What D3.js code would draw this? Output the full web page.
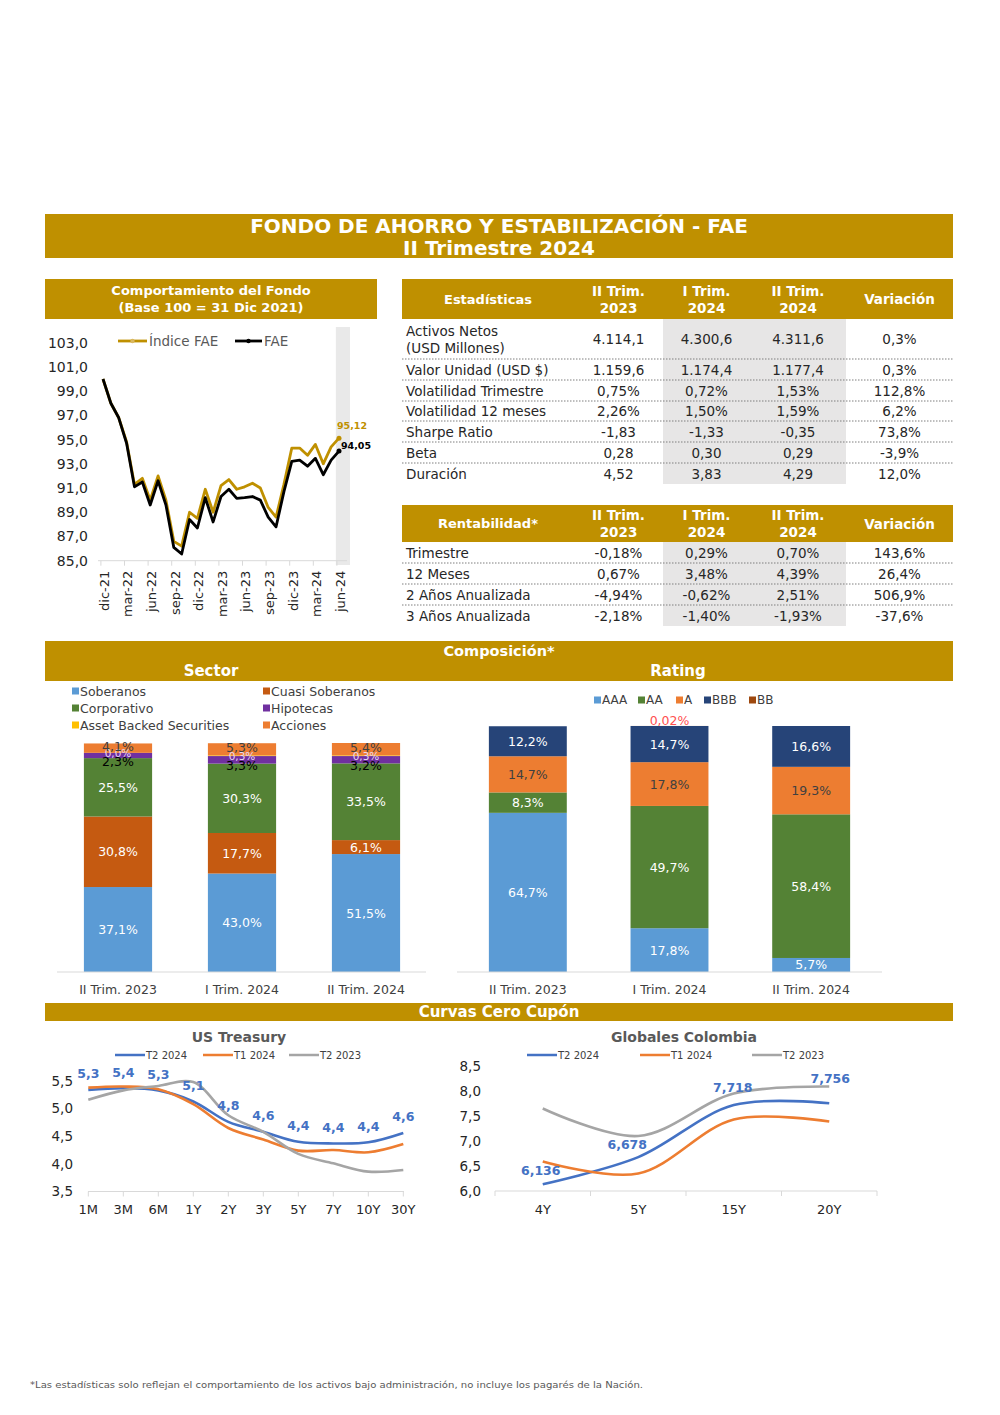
<!DOCTYPE html>
<html>
<head>
<meta charset="utf-8">
<script src="https://cdn.jsdelivr.net/npm/d3@7"></script>
<style>
    body { margin: 0; background: #fff; }
    svg { display: block; }
    text { font-family: 'DejaVu Sans', Verdana, sans-serif; }
</style>
</head>
<body>
<div id="page"></div>
<script>
// ---- datos ----
let monthTicks = ['dic-21', 'mar-22', 'jun-22', 'sep-22', 'dic-22', 'mar-23', 'jun-23', 'sep-23', 'dic-23', 'mar-24', 'jun-24'];
let indiceFae = [100.0, 98.0, 96.8, 94.8, 91.3, 91.8, 90.0, 92.0, 90.0, 86.6, 86.2, 89.0, 88.5, 90.9, 89.0, 91.2,
    91.7, 90.9, 91.1, 91.4, 91.0, 89.4, 88.6, 91.3, 94.3, 94.3, 93.7, 94.6, 93.0, 94.4, 95.12];
let fae = [100.0, 98.0, 96.8, 94.7, 91.1, 91.5, 89.6, 91.6, 89.6, 86.1, 85.55, 88.4, 87.7, 90.2, 88.2, 90.3,
    90.9, 90.15, 90.2, 90.3, 90.0, 88.6, 87.8, 90.7, 93.2, 93.3, 92.8, 93.45, 92.1, 93.3, 94.05];

let quarterHeads = ['II Trim.|2023', 'I Trim.|2024', 'II Trim.|2024'];

let statLabels = ['Activos Netos|(USD Millones)', 'Valor Unidad (USD $)', 'Volatilidad Trimestre', 'Volatilidad 12 meses', 'Sharpe Ratio', 'Beta', 'Duración'];
let statQ2_2023 = ['4.114,1', '1.159,6', '0,75%', '2,26%', '-1,83', '0,28', '4,52'];
let statQ1_2024 = ['4.300,6', '1.174,4', '0,72%', '1,50%', '-1,33', '0,30', '3,83'];
let statQ2_2024 = ['4.311,6', '1.177,4', '1,53%', '1,59%', '-0,35', '0,29', '4,29'];
let statVar = ['0,3%', '0,3%', '112,8%', '6,2%', '73,8%', '-3,9%', '12,0%'];

let rentLabels = ['Trimestre', '12 Meses', '2 Años Anualizada', '3 Años Anualizada'];
let rentQ2_2023 = ['-0,18%', '0,67%', '-4,94%', '-2,18%'];
let rentQ1_2024 = ['0,29%', '3,48%', '-0,62%', '-1,40%'];
let rentQ2_2024 = ['0,70%', '4,39%', '2,51%', '-1,93%'];
let rentVar = ['143,6%', '26,4%', '506,9%', '-37,6%'];

let compCats = ['II Trim. 2023', 'I Trim. 2024', 'II Trim. 2024'];
let soberanos = [37.1, 43.0, 51.5];
let cuasiSoberanos = [30.8, 17.7, 6.1];
let corporativo = [25.5, 30.3, 33.5];
let hipotecas = [2.3, 3.3, 3.2];
let assetBacked = [0.0, 0.3, 0.3];
let acciones = [4.1, 5.3, 5.4];

let ratingAAA = [64.7, 17.8, 5.7];
let ratingAA = [8.3, 49.7, 58.4];
let ratingA = [14.7, 17.8, 19.3];
let ratingBBB = [12.2, 14.7, 16.6];
let ratingBB = [0, 0.02, 0];

let curveSeries = ['T2 2024', 'T1 2024', 'T2 2023'];
let usTenors = ['1M', '3M', '6M', '1Y', '2Y', '3Y', '5Y', '7Y', '10Y', '30Y'];
let usT2_2024 = [5.34, 5.37, 5.33, 5.13, 4.76, 4.58, 4.40, 4.37, 4.39, 4.56];
let usT1_2024 = [5.38, 5.40, 5.35, 5.08, 4.65, 4.44, 4.24, 4.25, 4.21, 4.36];
let usT2_2023 = [5.16, 5.33, 5.41, 5.48, 4.88, 4.58, 4.18, 4.01, 3.86, 3.89];

let coTenors = ['4Y', '5Y', '15Y', '20Y'];
let coT2_2024 = [6.136, 6.678, 7.718, 7.756];
let coT1_2024 = [6.59, 6.35, 7.43, 7.39];
let coT2_2023 = [7.65, 7.10, 7.95, 8.09];

// ---- estilos ----
let gold = '#BF9000';
let ink = '#262626';
let curveColors = ['#4472C4', '#ED7D31', '#A5A5A5'];
let comma = s => s.replace('.', ',');

let svg = d3.select('#page')
    .append('svg')
    .attr('width', 1000)
    .attr('height', 1415);

function band(parent, x, y, w, h) {
    parent.append('rect')
        .attr('x', x).attr('y', y)
        .attr('width', w).attr('height', h)
        .attr('fill', gold);
}

function label(g, x, y, s, size, opts) {
    opts = opts || {};
    return g.append('text')
        .attr('x', x).attr('y', y)
        .attr('dominant-baseline', 'central')
        .attr('text-anchor', opts.anchor || 'middle')
        .attr('font-size', size)
        .attr('font-weight', opts.bold ? 'bold' : 'normal')
        .attr('fill', opts.fill || ink)
        .text(s);
}

// ---- cabecera ----
band(svg, 45, 214, 908, 44);
label(svg, 499, 225.5, 'FONDO DE AHORRO Y ESTABILIZACIÓN - FAE', 20, {bold: true, fill: '#fff'});
label(svg, 499, 247.5, 'II Trimestre 2024', 20, {bold: true, fill: '#fff'});

band(svg, 45, 279, 332, 40);
label(svg, 211, 290.5, 'Comportamiento del Fondo', 13, {bold: true, fill: '#fff'});
label(svg, 211, 307.5, '(Base 100 = 31 Dic 2021)', 13, {bold: true, fill: '#fff'});

// ---- comportamiento del fondo ----
(function () {
    let g = svg.append('g');

    let x = d3.scaleLinear().domain([0, indiceFae.length - 1]).range([103, 339]);
    let y = d3.scaleLinear().domain([85, 103]).range([560.7, 342.7]);

    // banda gris del ultimo trimestre
    g.append('rect')
        .attr('x', x(29.6)).attr('y', 327)
        .attr('width', x(31.4) - x(29.6)).attr('height', 238)
        .attr('fill', '#E9E9E9');

    let axisY = d3.axisLeft(y)
        .tickValues(d3.range(85, 104, 2))
        .tickFormat(d => comma(d.toFixed(1)))
        .tickSize(0)
        .tickPadding(3);
    let gy = g.append('g').attr('transform', 'translate(91,0)').call(axisY);
    gy.select('.domain').remove();
    gy.selectAll('text').attr('font-size', 14).attr('fill', ink).attr('font-family', null);

    g.append('line')
        .attr('x1', 98).attr('x2', 347)
        .attr('y1', y(85)).attr('y2', y(85))
        .attr('stroke', '#D9D9D9');

    let axisX = d3.axisBottom(x)
        .tickValues(d3.range(0, 31, 3))
        .tickFormat((d, i) => monthTicks[i])
        .tickSize(5);
    let gx = g.append('g')
        .attr('transform', 'translate(-2.6,' + y(85) + ')')
        .call(axisX);
    gx.select('.domain').remove();
    gx.selectAll('line').attr('stroke', '#D9D9D9');
    gx.selectAll('text')
        .attr('transform', 'rotate(-90)')
        .attr('text-anchor', 'end')
        .attr('x', -10)
        .attr('y', 0)
        .attr('dy', '0.6em')
        .attr('font-size', 13)
        .attr('font-family', null)
        .attr('fill', ink);

    let line = d3.line().x((d, i) => x(i)).y(d => y(d));

    g.append('path').datum(indiceFae)
        .attr('d', line).attr('fill', 'none')
        .attr('stroke', gold).attr('stroke-width', 2.8).attr('stroke-linejoin', 'round');
    g.append('path').datum(fae)
        .attr('d', line).attr('fill', 'none')
        .attr('stroke', '#000').attr('stroke-width', 2.8).attr('stroke-linejoin', 'round');

    let last = fae.length - 1;
    g.append('circle').attr('cx', x(last)).attr('cy', y(indiceFae[last])).attr('r', 2.5).attr('fill', gold);
    g.append('circle').attr('cx', x(last)).attr('cy', y(fae[last])).attr('r', 2.5).attr('fill', '#000');
    label(g, x(last) + 13, y(indiceFae[last]) - 13, comma(indiceFae[last].toFixed(2)), 9.5, {bold: true, fill: gold});
    label(g, x(last) + 17, y(fae[last]) - 6, comma(fae[last].toFixed(2)), 9.5, {bold: true, fill: '#000'});

    // leyenda
    g.append('line').attr('x1', 118).attr('x2', 147).attr('y1', 341).attr('y2', 341)
        .attr('stroke', gold).attr('stroke-width', 2.8);
    g.append('circle').attr('cx', 132.5).attr('cy', 341).attr('r', 2.2).attr('fill', '#D9B860');
    label(g, 149, 341, 'Índice FAE', 13.5, {anchor: 'start', fill: '#595959'});
    g.append('line').attr('x1', 235).attr('x2', 262).attr('y1', 341).attr('y2', 341)
        .attr('stroke', '#000').attr('stroke-width', 2.8);
    g.append('circle').attr('cx', 248.5).attr('cy', 341).attr('r', 2.2).attr('fill', '#000');
    label(g, 264, 341, 'FAE', 13.5, {anchor: 'start', fill: '#595959'});
})();

// ---- tablas ----
function drawTable(top, headH, rowEdges, title, labels, cols) {
    let g = svg.append('g');
    let edges = [402, 574, 663, 750, 846, 953];
    let centers = d3.pairs(edges).map(p => (p[0] + p[1]) / 2);
    let bottom = rowEdges[rowEdges.length - 1];

    band(g, 402, top, 551, headH);
    g.append('rect')
        .attr('x', 663).attr('y', top + headH)
        .attr('width', 183).attr('height', bottom - top - headH)
        .attr('fill', '#E7E6E6');

    let hy = top + headH / 2;
    label(g, centers[0], hy, title, 13, {bold: true, fill: '#fff'});
    quarterHeads.forEach(function (h, i) {
        let parts = h.split('|');
        label(g, centers[i + 1], hy - 8.5, parts[0], 13.5, {bold: true, fill: '#fff'});
        label(g, centers[i + 1], hy + 8.5, parts[1], 13.5, {bold: true, fill: '#fff'});
    });
    label(g, centers[4], hy, 'Variación', 13.5, {bold: true, fill: '#fff'});

    labels.forEach(function (s, r) {
        let cy = (rowEdges[r] + rowEdges[r + 1]) / 2;
        let parts = s.split('|');
        if (parts.length > 1) {
            label(g, 406, cy - 8.5, parts[0], 13.5, {anchor: 'start'});
            label(g, 406, cy + 8.5, parts[1], 13.5, {anchor: 'start'});
        } else {
            label(g, 406, cy, s, 13.5, {anchor: 'start'});
        }
        cols.forEach(function (col, c) {
            label(g, centers[c + 1], cy, col[r], 13.5);
        });
        if (r < labels.length - 1) {
            g.append('line')
                .attr('x1', 402).attr('x2', 953)
                .attr('y1', rowEdges[r + 1]).attr('y2', rowEdges[r + 1])
                .attr('stroke', '#7F7F7F').attr('stroke-dasharray', '1.5,1.5');
        }
    });
}

drawTable(279, 40, [319, 359, 380, 401, 421, 442, 463, 484], 'Estadísticas', statLabels,
    [statQ2_2023, statQ1_2024, statQ2_2024, statVar]);
drawTable(505, 37, [542, 563, 584, 605, 626], 'Rentabilidad*', rentLabels,
    [rentQ2_2023, rentQ1_2024, rentQ2_2024, rentVar]);

// ---- composicion ----
band(svg, 45, 641, 908, 40);
label(svg, 499, 651, 'Composición*', 14.5, {bold: true, fill: '#fff'});
label(svg, 211, 671, 'Sector', 15, {bold: true, fill: '#fff'});
label(svg, 678, 671, 'Rating', 15, {bold: true, fill: '#fff'});

function pct(v) {
    return comma(v > 0 && v < 0.1 ? v.toFixed(2) : v.toFixed(1)) + '%';
}

function stackedBars(opts) {
    let g = svg.append('g');
    let table = compCats.map(function (c, i) {
        let row = {cat: c};
        opts.keys.forEach((k, j) => row[k] = opts.values[j][i]);
        return row;
    });
    let series = d3.stack().keys(opts.keys)(table);

    let x = d3.scaleBand().domain(compCats).range(opts.xRange).paddingInner(0.45).paddingOuter(0.225);
    let y = d3.scaleLinear().domain([0, 100]).range([972, opts.top]);

    g.selectAll('g.serie')
        .data(series)
        .enter()
        .append('g')
        .attr('fill', (d, i) => opts.colors[i])
        .selectAll('rect')
        .data(d => d)
        .enter()
        .append('rect')
        .attr('x', d => x(d.data.cat))
        .attr('y', d => y(d[1]))
        .attr('width', x.bandwidth())
        .attr('height', d => y(d[0]) - y(d[1]));

    series.forEach(function (s, i) {
        s.forEach(function (d) {
            let v = d.data[s.key];
            if (opts.skipZero && opts.skipZero[i] && v === 0) return;
            let cy = (y(d[0]) + y(d[1])) / 2 + opts.labelDy[i];
            label(g, x(d.data.cat) + x.bandwidth() / 2, cy, pct(v), opts.labelSize[i], {fill: opts.labelColors[i]});
        });
    });

    g.append('line')
        .attr('x1', opts.axisRange[0]).attr('x2', opts.axisRange[1])
        .attr('y1', 972).attr('y2', 972)
        .attr('stroke', '#D9D9D9');

    let gx = g.append('g')
        .attr('transform', 'translate(0,972)')
        .call(d3.axisBottom(x).tickSize(0));
    gx.select('.domain').remove();
    gx.selectAll('text')
        .attr('y', 18).attr('dy', '0.35em')
        .attr('font-size', 12.5).attr('font-family', null).attr('fill', '#404040');

    // leyenda
    opts.keys.forEach(function (k, i) {
        let p = opts.legendPos(i);
        g.append('rect').attr('x', p[0]).attr('y', p[1] - 3.5).attr('width', 7).attr('height', 7).attr('fill', opts.colors[i]);
        label(g, p[0] + 8, p[1], k, opts.legendSize, {anchor: 'start', fill: '#404040'});
    });
}

stackedBars({
    keys: ['Soberanos', 'Cuasi Soberanos', 'Corporativo', 'Hipotecas', 'Asset Backed Securities', 'Acciones'],
    values: [soberanos, cuasiSoberanos, corporativo, hipotecas, assetBacked, acciones],
    colors: ['#5B9BD5', '#C55A11', '#548235', '#7030A0', '#FFC000', '#ED7D31'],
    labelColors: ['#fff', '#fff', '#fff', '#000', '#E6D8F2', '#404040'],
    labelSize: [12.5, 12.5, 12.5, 12.5, 10.5, 12.5],
    labelDy: [0, 0, 0, 6, 0, -2],
    xRange: [56, 428],
    axisRange: [57, 426],
    top: 743,
    legendSize: 12.5,
    legendPos: i => [i % 2 === 0 ? 72 : 263, 691 + Math.floor(i / 2) * 17]
});

let ratingLegendX = [594, 638, 676, 704, 749];
stackedBars({
    keys: ['AAA', 'AA', 'A', 'BBB', 'BB'],
    values: [ratingAAA, ratingAA, ratingA, ratingBBB, ratingBB],
    colors: ['#5B9BD5', '#548235', '#ED7D31', '#264478', '#9E480E'],
    labelColors: ['#fff', '#fff', '#404040', '#fff', '#FF5050'],
    labelSize: [12.5, 12.5, 12.5, 12.5, 12.5],
    labelDy: [0, 0, 0, 0, -5],
    skipZero: [false, false, false, false, true],
    xRange: [457, 882],
    axisRange: [457, 882],
    top: 726,
    legendSize: 12,
    legendPos: i => [ratingLegendX[i], 700]
});

// ---- curvas cero cupon ----
band(svg, 45, 1003, 908, 18);
label(svg, 499, 1012, 'Curvas Cero Cupón', 15, {bold: true, fill: '#fff'});

function curveChart(opts) {
    let g = svg.append('g');
    let y = d3.scaleLinear().domain(opts.yDomain).range([opts.bottom, opts.yTop]);
    let x = opts.x;
    let px = d => x(d) + (x.bandwidth ? x.bandwidth() / 2 : 0);

    label(g, opts.titleX, 1037, opts.title, 14, {bold: true, fill: '#595959'});

    // leyenda
    curveSeries.forEach(function (s, i) {
        let lx = opts.legendX[i];
        g.append('line').attr('x1', lx).attr('x2', lx + 30).attr('y1', 1055).attr('y2', 1055)
            .attr('stroke', curveColors[i]).attr('stroke-width', 2.5);
        label(g, lx + 31, 1055, s, 10, {anchor: 'start', fill: '#404040'});
    });

    let gy = g.append('g')
        .attr('transform', 'translate(' + opts.yAxisX + ',0)')
        .call(d3.axisLeft(y).tickValues(opts.yTicks).tickFormat(d => comma(d.toFixed(1))).tickSize(0).tickPadding(4));
    gy.select('.domain').remove();
    gy.selectAll('text').attr('font-size', 13.5).attr('font-family', null).attr('fill', ink);

    g.append('line')
        .attr('x1', opts.axisRange[0]).attr('x2', opts.axisRange[1])
        .attr('y1', opts.bottom).attr('y2', opts.bottom)
        .attr('stroke', '#D9D9D9');
    g.selectAll('line.tick')
        .data(opts.tickXs)
        .enter()
        .append('line')
        .attr('class', 'tick')
        .attr('x1', d => d).attr('x2', d => d)
        .attr('y1', opts.bottom).attr('y2', opts.bottom + 5)
        .attr('stroke', '#D9D9D9');
    opts.tenors.forEach(function (t) {
        label(g, px(t), opts.bottom + 18, t, 13, {fill: ink});
    });

    let line = d3.line()
        .x((d, i) => px(opts.tenors[i]))
        .y(d => y(d))
        .curve(d3.curveCatmullRom.alpha(0.5));

    opts.series.forEach(function (s, i) {
        g.append('path').datum(s)
            .attr('d', line)
            .attr('fill', 'none')
            .attr('stroke', curveColors[i])
            .attr('stroke-width', 2.6);
    });

    opts.series[0].forEach(function (v, i) {
        let dx = opts.labelDx ? opts.labelDx[i] : 0;
        let dy = opts.labelDy ? opts.labelDy[i] : -16;
        label(g, px(opts.tenors[i]) + dx, y(v) + dy, opts.fmt(v), 12.5, {bold: true, fill: curveColors[0]});
    });
}

let usX = d3.scalePoint().domain(usTenors).range([88.3, 403.3]);
curveChart({
    title: 'US Treasury', titleX: 239,
    legendX: [115, 203, 289],
    x: usX, tenors: usTenors,
    yDomain: [3.5, 5.5], yTicks: [3.5, 4.0, 4.5, 5.0, 5.5],
    bottom: 1191.5, yTop: 1081, yAxisX: 77,
    axisRange: [88, 404], tickXs: usTenors.map(t => usX(t)),
    series: [usT2_2024, usT1_2024, usT2_2023],
    fmt: v => comma(v.toFixed(1))
});

let coX = d3.scaleBand().domain(coTenors).range([495, 877]);
curveChart({
    title: 'Globales Colombia', titleX: 684,
    legendX: [527, 640, 752],
    x: coX, tenors: coTenors,
    yDomain: [6.0, 8.5], yTicks: [6.0, 6.5, 7.0, 7.5, 8.0, 8.5],
    bottom: 1191, yTop: 1066, yAxisX: 485,
    axisRange: [495, 877], tickXs: coTenors.map(t => coX(t)).concat([877]),
    series: [coT2_2024, coT1_2024, coT2_2023],
    fmt: v => comma(v.toFixed(3)),
    labelDx: [-2, -11, -1, 1],
    labelDy: [-14, -13, -18, -25]
});

// ---- nota ----
svg.append('text')
    .attr('x', 30).attr('y', 1388)
    .attr('font-size', 9.5)
    .attr('font-family', "'Liberation Sans', Arial, sans-serif")
    .attr('fill', '#595959')
    .attr('textLength', 613)
    .attr('lengthAdjust', 'spacingAndGlyphs')
    .text('*Las estadísticas solo reflejan el comportamiento de los activos bajo administración, no incluye los pagarés de la Nación.');
</script>
</body>
</html>
